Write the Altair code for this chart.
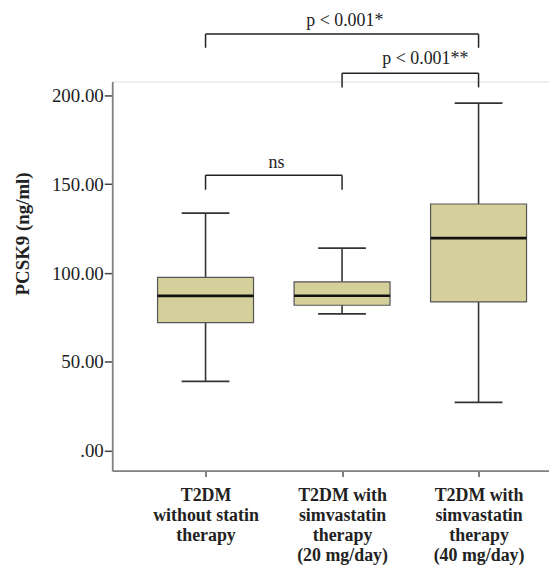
import altair as alt
import pandas as pd

# ---- data ----
categories = ["T2DM|without statin|therapy",
              "T2DM with|simvastatin|therapy|(20 mg/day)",
              "T2DM with|simvastatin|therapy|(40 mg/day)"]
positions = [1, 2, 3]
whisker_low = [39.1, 77.1, 27.2]
q1 = [72.1, 81.9, 83.8]
median = [87.2, 87.3, 119.7]
q3 = [97.6, 95.1, 138.9]
whisker_high = [133.7, 114.0, 195.7]

y_ticks = [0, 50, 100, 150, 200]

# significance brackets
br_from = [1, 2, 1]
br_to = [3, 3, 2]
br_top = [234.5, 212.5, 155.1]
br_drop = [226.8, 204.5, 146.9]
br_label = ["p < 0.001*", "p < 0.001**", "ns"]
br_label_x = [2.02, 2.61, 1.52]
br_label_y = [242.0, 220.5, 161.8]

box_df = pd.DataFrame({"cat": categories, "pos": positions, "lo": whisker_low,
                       "q1": q1, "med": median, "q3": q3, "hi": whisker_high})
br_df = pd.DataFrame({"a": br_from, "b": br_to, "top": br_top, "drop": br_drop,
                      "label": br_label, "lx": br_label_x, "ly": br_label_y})

FONT = "Liberation Serif"
label_list = "[" + ",".join("'" + c + "'" for c in categories) + "]"

xscale = alt.Scale(domain=[0.3164, 3.516], nice=False, zero=False)
yscale = alt.Scale(domain=[-11.17, 207.8], nice=False, zero=False)

xaxis = alt.Axis(values=positions, title=None, grid=False,
                 labelExpr="split(" + label_list + "[datum.value-1], '|')",
                 labelFont=FONT, labelFontSize=18, labelFontWeight="bold",
                 labelColor="#222", labelLineHeight=20.3, labelPadding=10,
                 labelFlush=False, labelOverlap=False,
                 tickSize=6, tickColor="#555", tickWidth=1.5,
                 domainColor="#808080", domainWidth=1.8)
yaxis = alt.Axis(values=y_ticks, title="PCSK9 (ng/ml)", grid=False,
                 labelExpr="datum.value == 0 ? '.00' : format(datum.value, '.2f')",
                 labelFont=FONT, labelFontSize=19, labelColor="#222", labelPadding=1,
                 tickSize=8, tickColor="#444", tickWidth=1.5,
                 domainColor="#808080", domainWidth=1.8,
                 titleFont=FONT, titleFontSize=19, titleFontWeight="bold",
                 titleColor="#222", titleX=-90, titleY=153, titleAngle=270,
                 titleBaseline="middle", titleAlign="center")

base = alt.Chart(box_df).transform_calculate(
    bx0="datum.pos - 0.3516", bx1="datum.pos + 0.3516",
    cx0="datum.pos - 0.175", cx1="datum.pos + 0.175")

whisk = base.mark_rule(color="#333", strokeWidth=1.6).encode(
    x=alt.X("pos:Q", scale=xscale, axis=xaxis),
    y=alt.Y("lo:Q", scale=yscale, axis=yaxis),
    y2="hi:Q")
cap_lo = base.mark_rule(color="#333", strokeWidth=1.8).encode(
    x="cx0:Q", x2="cx1:Q", y="lo:Q")
cap_hi = base.mark_rule(color="#333", strokeWidth=1.8).encode(
    x="cx0:Q", x2="cx1:Q", y="hi:Q")
box = base.mark_rect(fill="#D4CF9B", stroke="#555", strokeWidth=1.2).encode(
    x="bx0:Q", x2="bx1:Q", y="q1:Q", y2="q3:Q")
med = base.mark_rule(color="#111", strokeWidth=2.6).encode(
    x="bx0:Q", x2="bx1:Q", y="med:Q")

bb = alt.Chart(br_df)
br_h = bb.mark_rule(color="#222", strokeWidth=1.5, clip=False).encode(
    x="a:Q", x2="b:Q", y="top:Q")
br_l = bb.mark_rule(color="#222", strokeWidth=1.5, clip=False).encode(
    x="a:Q", y="top:Q", y2="drop:Q")
br_r = bb.mark_rule(color="#222", strokeWidth=1.5, clip=False).encode(
    x="b:Q", y="top:Q", y2="drop:Q")
br_t = bb.mark_text(font=FONT, fontSize=18, color="#222", baseline="middle",
                    align="center", clip=False).encode(
    x="lx:Q", y="ly:Q", text="label:N")

chart = alt.layer(whisk, cap_lo, cap_hi, box, med, br_h, br_l, br_r, br_t).properties(
    width=440, height=392,
    autosize=alt.AutoSizeParams(type="none"),
    padding={"left": 105, "top": 72, "right": 0, "bottom": 100},
).configure_view(stroke=None).configure(background="white")

chart.save("out.html", embed_options={"renderer": "svg", "actions": False})
